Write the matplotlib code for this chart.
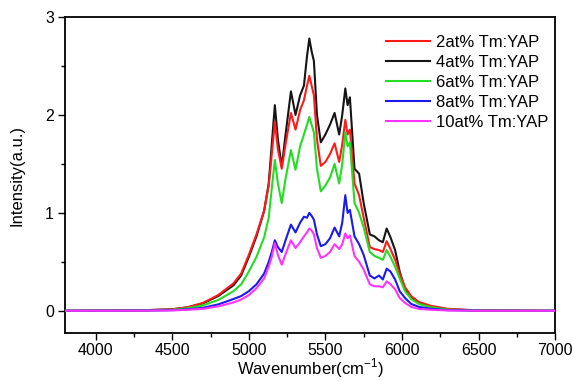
import matplotlib
matplotlib.use("Agg")
import matplotlib.pyplot as plt
from matplotlib.ticker import MultipleLocator

plt.rcParams['font.family'] = ['Liberation Sans', 'DejaVu Sans']
plt.rcParams['mathtext.fontset'] = 'custom'
plt.rcParams['mathtext.rm'] = 'Liberation Sans'

# wavenumber grid (cm-1)
wavenumber = [3800, 4300, 4500, 4600, 4700, 4800, 4900, 4950, 5000, 5050,
              5100, 5130, 5150, 5170, 5190, 5215, 5240, 5275, 5305, 5335,
              5360, 5380, 5395, 5410, 5425, 5445, 5470, 5500, 5530, 5560,
              5590, 5610, 5630, 5645, 5660, 5690, 5720, 5750, 5790, 5820,
              5850, 5875, 5900, 5925, 5955, 5985, 6020, 6060, 6110, 6190,
              6300, 6500, 7000]

tm2 = [0, 0.005, 0.015, 0.035, 0.08, 0.16, 0.28, 0.38, 0.57, 0.78,
       1.02, 1.28, 1.6, 1.93, 1.65, 1.45, 1.7, 2.02, 1.85, 2.05,
       2.15, 2.3, 2.4, 2.3, 2.2, 1.75, 1.48, 1.52, 1.6, 1.71,
       1.52, 1.7, 1.95, 1.8, 1.85, 1.3, 1.18, 0.95, 0.65, 0.63,
       0.62, 0.6, 0.71, 0.63, 0.52, 0.38, 0.24, 0.15, 0.09, 0.05,
       0.02, 0.004, 0]

tm4 = [0, 0.005, 0.015, 0.035, 0.075, 0.15, 0.26, 0.36, 0.55, 0.76,
       1.02, 1.3, 1.7, 2.1, 1.75, 1.47, 1.8, 2.24, 2.0, 2.2,
       2.3, 2.6, 2.78, 2.65, 2.55, 2.0, 1.72, 1.8, 1.9, 2.02,
       1.8, 2.0, 2.27, 2.1, 2.18, 1.45, 1.4, 1.1, 0.78, 0.76,
       0.72, 0.7, 0.84, 0.75, 0.62, 0.4, 0.22, 0.13, 0.08, 0.04,
       0.015, 0.003, 0]

tm6 = [0, 0.003, 0.01, 0.025, 0.055, 0.11, 0.2, 0.27, 0.4, 0.55,
       0.75, 0.95, 1.25, 1.54, 1.3, 1.1, 1.35, 1.64, 1.44, 1.68,
       1.8, 1.9, 1.98, 1.9, 1.82, 1.45, 1.22, 1.28, 1.36, 1.5,
       1.3, 1.5, 1.82, 1.68, 1.72, 1.1, 1.0, 0.85, 0.6, 0.56,
       0.54, 0.52, 0.62, 0.55, 0.45, 0.33, 0.2, 0.12, 0.07, 0.035,
       0.012, 0.002, 0]

tm8 = [0, 0.002, 0.006, 0.014, 0.03, 0.065, 0.12, 0.15, 0.2, 0.27,
       0.38, 0.5, 0.6, 0.72, 0.65, 0.6, 0.72, 0.88, 0.8, 0.9,
       0.96, 0.95, 1.0, 0.97, 0.93, 0.78, 0.66, 0.68, 0.74, 0.85,
       0.76, 0.9, 1.18, 1.0, 1.03, 0.76, 0.68, 0.57, 0.36, 0.33,
       0.36, 0.32, 0.43, 0.4, 0.32, 0.2, 0.13, 0.07, 0.04, 0.02,
       0.006, 0.001, 0]

tm10 = [0, 0.001, 0.004, 0.01, 0.02, 0.045, 0.085, 0.115, 0.16, 0.23,
        0.33, 0.45, 0.55, 0.69, 0.57, 0.47, 0.58, 0.72, 0.64, 0.7,
        0.76, 0.8, 0.84, 0.82, 0.78, 0.64, 0.54, 0.56, 0.6, 0.68,
        0.63, 0.68, 0.79, 0.74, 0.77, 0.56, 0.5, 0.42, 0.27, 0.25,
        0.25, 0.24, 0.3, 0.27, 0.22, 0.13, 0.08, 0.04, 0.02, 0.01,
        0.003, 0.0, 0]

labels = ["2at% Tm:YAP", "4at% Tm:YAP", "6at% Tm:YAP", "8at% Tm:YAP", "10at% Tm:YAP"]
colors = ["#ff1a1a", "#151515", "#22dd22", "#1a1aee", "#ff33ff"]
series = [tm2, tm4, tm6, tm8, tm10]
zorders = [3, 2, 4, 5, 6]

fig = plt.figure(figsize=(5.74, 3.81), dpi=100)
ax = fig.add_axes([0.1132, 0.1252, 0.854, 0.8302])

for y, c, lab, z in zip(series, colors, labels, zorders):
    ax.plot(wavenumber, y, color=c, lw=1.5, label=lab, zorder=z)

ax.set_xlim(3800, 7000)
ax.set_ylim(-0.23, 3)
ax.xaxis.set_major_locator(MultipleLocator(500))
ax.xaxis.set_minor_locator(MultipleLocator(250))
ax.yaxis.set_major_locator(MultipleLocator(1))
ax.yaxis.set_minor_locator(MultipleLocator(0.5))
ax.tick_params(which='major', direction='out', length=5, width=1, labelsize=11.5, pad=3)
ax.tick_params(axis='x', which='major', pad=2)
ax.tick_params(which='minor', direction='out', length=3, width=1)
for s in ax.spines.values():
    s.set_linewidth(1.3)

ax.set_xlabel("Wavenumber(cm$^{-1}$)", fontsize=12, labelpad=-1)
ax.set_ylabel("Intensity(a.u.)", fontsize=12)
ax.yaxis.set_label_coords(-0.082, 0.5)

ax.legend(loc='upper left', frameon=False, fontsize=12, handlelength=2.6,
          handletextpad=0.4, labelspacing=0.3, borderpad=0.4,
          bbox_to_anchor=(0.625, 0.99))

fig.savefig("out.png", dpi=100)
